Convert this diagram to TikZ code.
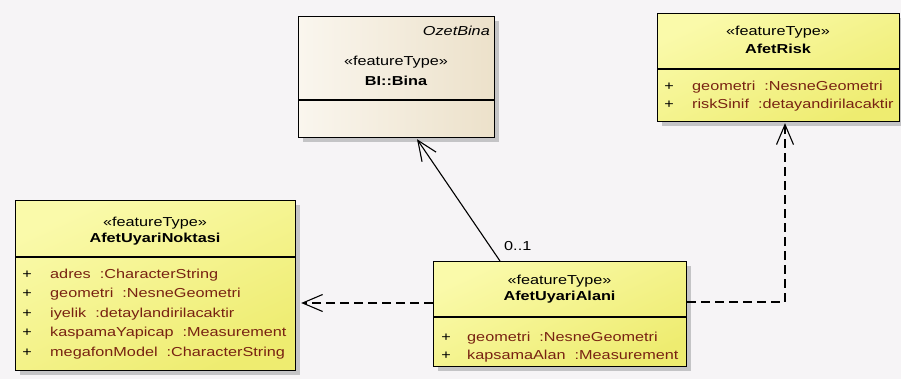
\documentclass[tikz,border=0pt]{standalone}
\usepackage{fontspec}
\setmainfont{Liberation Sans}[FakeStretch=1.25]
\usetikzlibrary{arrows.meta,shadows}
\definecolor{bg}{RGB}{246,244,246}
\definecolor{ylA}{RGB}{250,250,170}
\definecolor{ylB}{RGB}{238,236,112}
\definecolor{bnA}{RGB}{250,246,238}
\definecolor{bnB}{RGB}{236,225,202}
\definecolor{attrc}{RGB}{120,34,18}
\definecolor{shd}{RGB}{196,196,198}
\tikzset{
  cls/.style={draw=black, line width=1.2pt, anchor=north west, inner sep=0pt,
    drop shadow={shadow xshift=4pt, shadow yshift=-4pt, fill=shd, opacity=1}},
  ycls/.style={cls, top color=ylA, bottom color=ylB, shading angle=25},
  bcls/.style={cls, left color=bnA, right color=bnB},
  txt/.style={font=\fontsize{13pt}{15pt}\selectfont, inner sep=0pt, anchor=base},
  ttl/.style={txt},
  ttlb/.style={txt, font=\fontsize{13pt}{15pt}\selectfont\bfseries},
  plus/.style={txt},
  attr/.style={txt, anchor=base west, text=attrc},
  lbl/.style={txt, anchor=base west},
  divl/.style={line width=1.2pt, black},
  assoc/.style={line width=1.1pt, -{Straight Barb[length=20pt,width=17pt,line width=1.1pt]}},
  dep/.style={line width=1.1pt, dash pattern=on 9pt off 5pt, -{Straight Barb[length=20pt,width=17pt,line width=1.1pt]}}
}
\begin{document}
\begin{tikzpicture}[x=1pt,y=-1pt]
\fill[bg] (0,0) rectangle (901,379);
\useasboundingbox (0,0) rectangle (901,379);

% ---- BI::Bina ----
\node[bcls, minimum width=196pt, minimum height=121pt] (bina) at (298,16) {};
\draw[divl] (298,100) -- (494,100);
\node[txt, anchor=base east, font=\fontsize{13pt}{15pt}\selectfont\itshape] (binaA) at (490,36) {OzetBina};
\node[ttl] (binaS) at (396,66) {«featureType»};
\node[ttlb] (binaN) at (396,86) {BI::Bina};

% ---- AfetRisk ----
\node[ycls, minimum width=242pt, minimum height=108pt] (risk) at (657,13) {};
\draw[divl] (657,69) -- (899,69);
\node[ttl] (riskS) at (778,36) {«featureType»};
\node[ttlb] (riskN) at (778,54) {AfetRisk};
\node[plus] (riskP1) at (669,91) {+};
\node[attr] (riskA1) at (692,91) {geometri\hspace{9pt}:NesneGeometri};
\node[plus] (riskP2) at (669,109) {+};
\node[attr] (riskA2) at (692,109) {riskSinif\hspace{9pt}:detayandirilacaktir};

% ---- AfetUyariNoktasi ----
\node[ycls, minimum width=280pt, minimum height=170pt] (nok) at (15,200) {};
\draw[divl] (15,257) -- (295,257);
\node[ttl] (nokS) at (155,226) {«featureType»};
\node[ttlb] (nokN) at (155,243) {AfetUyariNoktasi};
\node[plus] (nokP1) at (27,278) {+};
\node[attr] (nokA1) at (50,278) {adres\hspace{9pt}:CharacterString};
\node[plus] (nokP2) at (27,297.5) {+};
\node[attr] (nokA2) at (50,297.5) {geometri\hspace{9pt}:NesneGeometri};
\node[plus] (nokP3) at (27,317) {+};
\node[attr] (nokA3) at (50,317) {iyelik\hspace{9pt}:detaylandirilacaktir};
\node[plus] (nokP4) at (27,336.5) {+};
\node[attr] (nokA4) at (50,336.5) {kaspamaYapicap\hspace{9pt}:Measurement};
\node[plus] (nokP5) at (27,356) {+};
\node[attr] (nokA5) at (50,356) {megafonModel\hspace{9pt}:CharacterString};

% ---- AfetUyariAlani ----
\node[ycls, minimum width=253pt, minimum height=105pt] (ala) at (433,261) {};
\draw[divl] (433,317) -- (686,317);
\node[ttl] (alaS) at (559.5,284) {«featureType»};
\node[ttlb] (alaN) at (559.5,300) {AfetUyariAlani};
\node[plus] (alaP1) at (446,341) {+};
\node[attr] (alaA1) at (467,341) {geometri\hspace{9pt}:NesneGeometri};
\node[plus] (alaP2) at (446,359) {+};
\node[attr] (alaA2) at (467,359) {kapsamaAlan\hspace{9pt}:Measurement};

% ---- connectors ----
\draw[assoc] ([xshift=67pt]ala.north west) -- ([xshift=119pt,yshift=-1pt]bina.south west);
\node[lbl] (mult) at (504,250) {0..1};
\draw[dep] ([yshift=-42pt]ala.north west) -- ([yshift=-103pt,xshift=5pt]nok.north east);
\draw[dep] ([yshift=-41pt]ala.north east) -| ([xshift=128pt,yshift=-1pt]risk.south west);
\end{tikzpicture}
\end{document}
